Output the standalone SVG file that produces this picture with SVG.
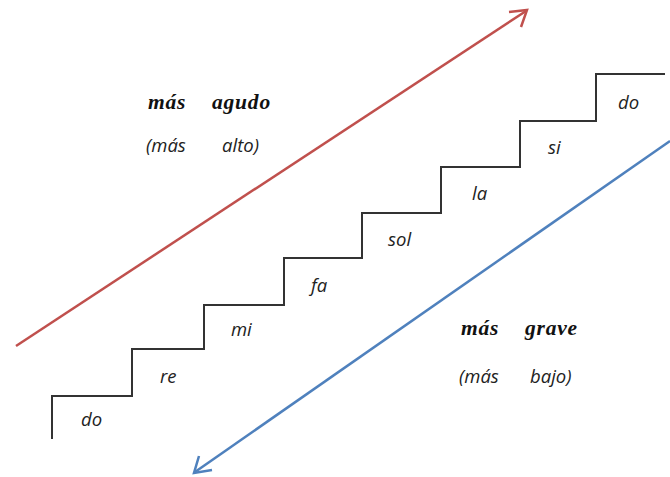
<svg xmlns="http://www.w3.org/2000/svg" width="670" height="477" viewBox="0 0 670 477">
<style>
text{font-family:"Open Sans","Noto Sans",sans-serif;font-style:italic;font-size:18.5px;fill:#222}
.b{font-family:"Liberation Serif","DejaVu Serif",serif;font-style:italic;font-weight:bold;font-size:21.5px;letter-spacing:0.8px;fill:#111}
.stair{fill:none;stroke:#333;stroke-width:2}
.red{stroke:#c0504d;stroke-width:2.5;fill:none}
.blue{stroke:#4f81bd;stroke-width:2.5;fill:none}
</style>
<rect width="670" height="477" fill="#fff"/>
<g id="connectors">
<line class="red" x1="16" y1="346" x2="526" y2="11"/>
<polyline class="red" points="509,12 527,10 521,27"/>
<line class="blue" x1="670" y1="141" x2="195" y2="472"/>
<polyline class="blue" points="212,470 194,473 199,456"/>
</g>
<g id="stairs">
<polyline class="stair" points="52,439 52,396 132,396 132,349 204,349 204,305 284,305 284,258 362,258 362,213 441,213 441,167 520,167 520,121 596,121 596,74 665,74"/>
</g>
<g id="notes">
<text x="81" y="426">do</text>
<text x="160" y="383">re</text>
<text x="231" y="336">mi</text>
<text x="311" y="292">fa</text>
<text x="388" y="246">sol</text>
<text x="472" y="200">la</text>
<text x="548" y="154">si</text>
<text x="618" y="109">do</text>
</g>
<g id="agudo">
<text class="b" x="148" y="109">más</text>
<text class="b" x="212" y="109">agudo</text>
<text x="146" y="152">(más</text>
<text x="222" y="152">alto)</text>
</g>
<g id="grave">
<text class="b" x="461" y="335">más</text>
<text class="b" x="525" y="335">grave</text>
<text x="459" y="383">(más</text>
<text x="530" y="383">bajo)</text>
</g>
</svg>
